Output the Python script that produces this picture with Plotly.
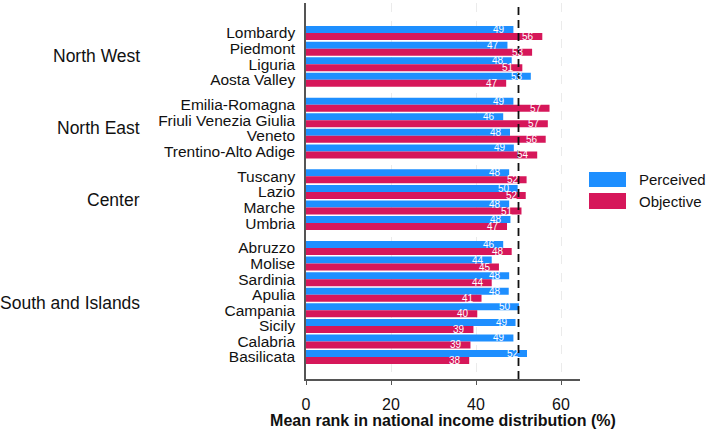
import plotly.graph_objects as go

groups = ["North West", "North East", "Center", "South and Islands"]
regions = [
    ["Lombardy", "Piedmont", "Liguria", "Aosta Valley"],
    ["Emilia-Romagna", "Friuli Venezia Giulia", "Veneto", "Trentino-Alto Adige"],
    ["Tuscany", "Lazio", "Marche", "Umbria"],
    ["Abruzzo", "Molise", "Sardinia", "Apulia", "Campania", "Sicily", "Calabria", "Basilicata"],
]
perceived = [
    [48.8, 47.4, 48.4, 52.9],
    [48.8, 46.4, 48.0, 48.9],
    [47.8, 49.8, 47.8, 48.1],
    [46.4, 43.7, 47.8, 47.7, 50.1, 49.3, 48.8, 52.0],
]
objective = [
    [55.6, 53.2, 50.9, 47.1],
    [57.3, 56.9, 56.4, 54.4],
    [51.9, 51.7, 50.7, 47.3],
    [48.4, 45.4, 43.7, 41.3, 40.3, 39.4, 38.7, 38.4],
]
series_names = ["Perceived", "Objective"]
colors = ["#1E8FFF", "#D6175A"]
reference_value = 50
x_ticks = [0, 20, 40, 60]

# layout geometry (pixels)
W, H = 708, 429
L, R, T, B = 306, 580, 3, 379
GAP = 0.6

def px_x(p):
    return (p - L) / (R - L)

def px_y(p):
    return (B - p) / (B - T)

# flatten with group gaps
names, pos, perc, obj, group_centers = [], [], [], [], []
idx = 0
for gi, (g, regs) in enumerate(zip(groups, regions)):
    gpos = []
    for j, r in enumerate(regs):
        p = idx + gi * GAP
        names.append(r)
        pos.append(p)
        perc.append(perceived[gi][j])
        obj.append(objective[gi][j])
        gpos.append(p)
        idx += 1
    group_centers.append(sum(gpos) / len(gpos))

fig = go.Figure()
for name, vals, col in zip(series_names, [perc, obj], colors):
    fig.add_trace(go.Bar(
        x=vals, y=pos, orientation="h", name=name,
        marker=dict(color=col, line=dict(width=0)),
        showlegend=False,
    ))

annotations = []
for k, (name, vals) in enumerate(zip(series_names, [perc, obj])):
    off = -0.225 if k == 0 else 0.225
    for p, v in zip(pos, vals):
        annotations.append(dict(
            x=v, y=p + off, xref="x", yref="y", text=f"{v:.0f}",
            showarrow=False, xanchor="right", yanchor="middle", xshift=-6,
            font=dict(color="white", size=10, family="Liberation Sans, Arial"),
        ))

for g, c in zip(groups, group_centers):
    annotations.append(dict(
        x=px_x(142), y=c, xref="paper", yref="y", text=g, showarrow=False,
        xanchor="right", yanchor="middle",
        font=dict(size=17.5, color="#111", family="Liberation Sans, Arial"),
    ))

shapes = [dict(type="line", xref="x", yref="paper", x0=reference_value, x1=reference_value,
               y0=0, y1=1, line=dict(color="#111", width=1.8, dash="8px,5px"))]

# custom legend
leg_boxes = [(172, 187), (193, 209)]
for (y0, y1), name, col in zip(leg_boxes, series_names, colors):
    shapes.append(dict(type="rect", xref="paper", yref="paper",
                       x0=px_x(589), x1=px_x(626), y0=px_y(y1), y1=px_y(y0),
                       fillcolor=col, line=dict(width=0)))
    annotations.append(dict(x=px_x(637), y=px_y((y0 + y1) / 2), xref="paper", yref="paper",
                            text=name, showarrow=False, xanchor="left", yanchor="middle",
                            font=dict(size=15, color="#111", family="Liberation Sans, Arial")))

y_top = pos[0] - 1.93
y_bot = pos[-1] + 1.41

fig.update_layout(
    width=W, height=H,
    margin=dict(l=L, r=W - R, t=T, b=H - B, autoexpand=False),
    barmode="group", bargap=0.1, bargroupgap=0,
    plot_bgcolor="white", paper_bgcolor="white",
    font=dict(family="Liberation Sans, Arial", color="#111"),
    annotations=annotations, shapes=shapes,
    xaxis=dict(
        range=[0, (R - L) / 4.25], tickvals=x_ticks, ticks="outside", ticklen=4,
        tickcolor="#555", tickfont=dict(size=16, color="#111"), ticklabelstandoff=6,
        showline=True, linecolor="#555", linewidth=1.5, automargin=False,
        showgrid=True, gridcolor="#EBEBEB", griddash="dash", gridwidth=1,
        zeroline=False,
        title=dict(text="<b>Mean rank in national income distribution (%)</b>",
                   font=dict(size=16, color="#111"), standoff=2),
    ),
    yaxis=dict(
        range=[y_bot, y_top], tickvals=pos, ticktext=names, automargin=False,
        tickfont=dict(size=15.5, color="#111"), ticks="", ticklabelstandoff=6,
        showline=True, linecolor="#555", linewidth=1.5,
        showgrid=False, zeroline=False,
    ),
)

fig.write_html("out.html")
